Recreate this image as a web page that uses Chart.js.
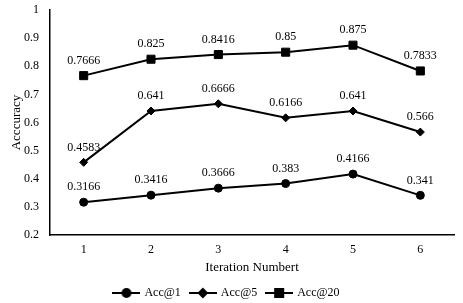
<!DOCTYPE html>
<html>
<head>
<meta charset="utf-8">
<script src="https://cdn.jsdelivr.net/npm/chart.js@4"></script>
<style>
  html, body { margin: 0; padding: 0; background: #fff; }
  #wrap { width: 463px; height: 303px; }
</style>
</head>
<body>
<div id="wrap"><canvas id="accChart" width="463" height="303"></canvas></div>
<script>
// values
const iterations = ["1", "2", "3", "4", "5", "6"];
const acc1 = [0.3166, 0.3416, 0.3666, 0.383, 0.4166, 0.341];
const acc5 = [0.4583, 0.641, 0.6666, 0.6166, 0.641, 0.566];
const acc20 = [0.7666, 0.825, 0.8416, 0.85, 0.875, 0.7833];
const seriesNames = ["Acc@1", "Acc@5", "Acc@20"];

const FONT = "'Liberation Serif', 'Times New Roman', serif";

// little line+marker swatch for the legend
const makeSwatch = (style, r) => {
  const c = document.createElement("canvas");
  c.width = 28;
  c.height = 12;
  const ctx = c.getContext("2d");
  ctx.strokeStyle = "#000";
  ctx.lineWidth = 2;
  ctx.beginPath();
  ctx.moveTo(0, 6);
  ctx.lineTo(28, 6);
  ctx.stroke();
  Chart.helpers.drawPoint(ctx, { pointStyle: style, radius: r, borderWidth: 1 }, 14, 6);
  ctx.fillStyle = "#000";
  ctx.fill();
  return c;
};

// draws the value above every point
const valueLabels = {
  id: "valueLabels",
  afterDatasetsDraw(chart) {
    const ctx = chart.ctx;
    ctx.save();
    ctx.font = "12px " + FONT;
    ctx.fillStyle = "#000";
    ctx.textAlign = "center";
    ctx.textBaseline = "middle";
    chart.data.datasets.forEach((ds, i) => {
      chart.getDatasetMeta(i).data.forEach((pt, j) => {
        ctx.fillText(String(ds.data[j]), pt.x, pt.y - 15);
      });
    });
    ctx.restore();
  },
};

const mkSet = (label, data, style, r) => ({
  label: label,
  data: data,
  borderColor: "#000",
  backgroundColor: "#000",
  borderWidth: 2,
  pointStyle: style,
  pointRadius: r,
  pointHoverRadius: r,
  pointBorderWidth: 1,
  tension: 0,
});

new Chart(document.getElementById("accChart"), {
  type: "line",
  data: {
    labels: iterations,
    datasets: [
      mkSet(seriesNames[0], acc1, "circle", 4),
      mkSet(seriesNames[1], acc5, "rectRot", 4),
      mkSet(seriesNames[2], acc20, "rect", 5.7),
    ],
  },
  options: {
    responsive: false,
    animation: false,
    layout: { padding: { top: 0, right: 9, bottom: -6, left: 0 } },
    plugins: {
      tooltip: { enabled: false },
      legend: {
        position: "bottom",
        labels: {
          usePointStyle: true,
          pointStyleWidth: 24,
          boxHeight: 12,
          padding: 10,
          color: "#000",
          font: { family: FONT, size: 12 },
          generateLabels: (chart) =>
            chart.data.datasets.map((ds, i) => ({
              text: ds.label,
              pointStyle: makeSwatch(ds.pointStyle, ds.pointRadius),
              fillStyle: "#000",
              strokeStyle: "#000",
              lineWidth: 0,
              datasetIndex: i,
              fontColor: "#000",
            })),
        },
      },
    },
    scales: {
      x: {
        offset: true,
        grid: { display: false, drawTicks: false },
        border: { display: true, color: "#000", width: 1.5 },
        ticks: { color: "#000", padding: 8, font: { family: FONT, size: 12 } },
        title: {
          display: true,
          text: "Iteration Numbert",
          color: "#000",
          padding: { top: 4, bottom: 2 },
          font: { family: FONT, size: 13 },
        },
        afterFit: (scale) => {
          scale.height = 42;
        },
      },
      y: {
        min: 0.2,
        max: 1,
        grid: { display: false, drawTicks: false },
        border: { display: true, color: "#000", width: 1.5 },
        ticks: {
          stepSize: 0.1,
          color: "#000",
          padding: 11,
          font: { family: FONT, size: 12 },
          callback: (v) => String(+v.toFixed(1)),
        },
        title: {
          display: true,
          text: "Acccuracy",
          color: "#000",
          padding: { top: 9, bottom: 0 },
          font: { family: FONT, size: 13 },
        },
        afterFit: (scale) => {
          scale.width = 50;
          scale.paddingTop = 10;
        },
      },
    },
  },
  plugins: [valueLabels],
});
</script>
</body>
</html>
